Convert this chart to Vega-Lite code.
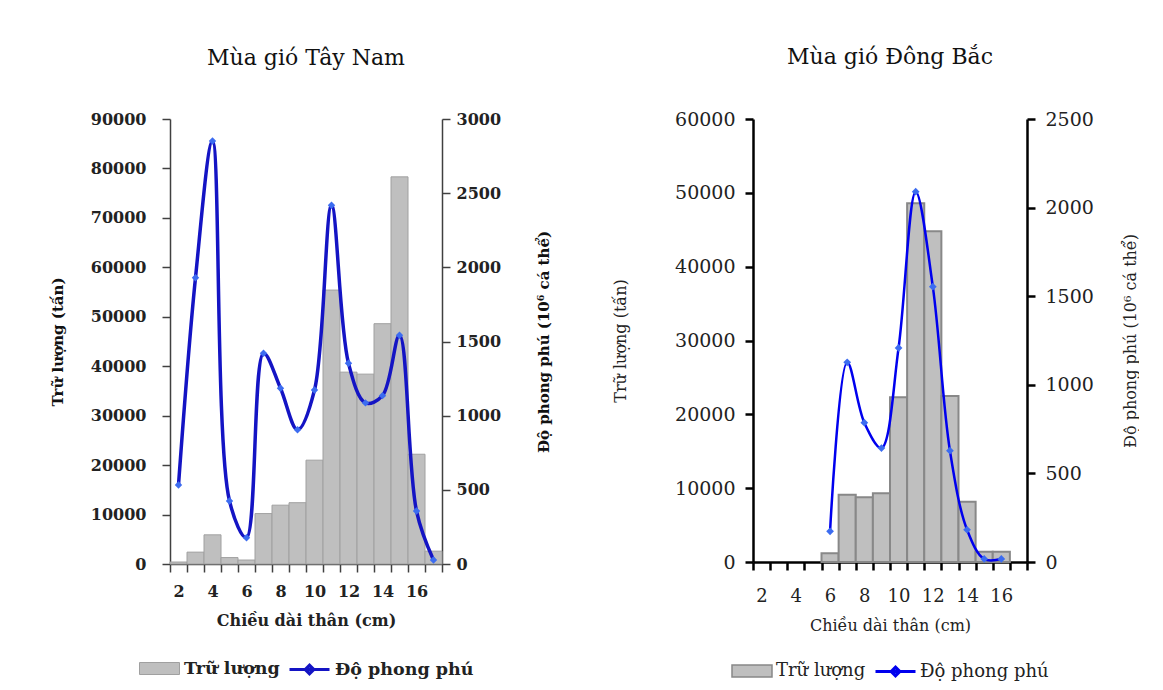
{
  "$schema": "https://vega.github.io/schema/vega-lite/v6.json",
  "background": "white",
  "padding": {"left": 50, "top": 46, "right": 0, "bottom": 0},
  "config": {
    "font": "DejaVu Serif",
    "view": {"stroke": null},
    "axis": {"grid": false},
    "legend": {"layout": {"bottom": {"anchor": "middle"}}}
  },
  "spacing": 60,
  "resolve": {"legend": {"fill": "independent", "stroke": "independent"}, "scale": {"fill": "independent", "stroke": "independent"}},
  "hconcat": [
    {
      "title": {"text": "Mùa gió Tây Nam", "fontSize": 22, "fontWeight": "normal", "font": "DejaVu Serif", "color": "#111", "offset": 41},
      "data": {"values": [
        {"len": 2, "tl": 400, "dpp": 533},
        {"len": 3, "tl": 2400, "dpp": 1930},
        {"len": 4, "tl": 5900, "dpp": 2852},
        {"len": 5, "tl": 1300, "dpp": 425},
        {"len": 6, "tl": 800, "dpp": 177},
        {"len": 7, "tl": 10200, "dpp": 1421},
        {"len": 8, "tl": 11900, "dpp": 1185},
        {"len": 9, "tl": 12400, "dpp": 905},
        {"len": 10, "tl": 21000, "dpp": 1173},
        {"len": 11, "tl": 55400, "dpp": 2418},
        {"len": 12, "tl": 38800, "dpp": 1353},
        {"len": 13, "tl": 38400, "dpp": 1086},
        {"len": 14, "tl": 48600, "dpp": 1135},
        {"len": 15, "tl": 78300, "dpp": 1542},
        {"len": 16, "tl": 22200, "dpp": 357},
        {"len": 17, "tl": 2600, "dpp": 27}
      ]},
      "width": 272,
      "height": 445,
      "encoding": {
        "x": {
          "field": "len", "type": "ordinal",
          "scale": {"domain": [2,3,4,5,6,7,8,9,10,11,12,13,14,15,16,17], "paddingInner": 0, "paddingOuter": 0},
          "axis": {
            "title": "Chiều dài thân (cm)", "tickBand": "extent", "labelAngle": 0, "labelOverlap": false,
            "labelExpr": "datum.value % 2 == 0 ? datum.label : ''",
            "labelFontSize": 16, "labelFontWeight": "bold", "labelColor": "#222", "labelPadding": 11,
            "titleFontSize": 16, "titleFontWeight": "bold", "titleColor": "#222", "titlePadding": 13,
            "tickSize": 8, "tickColor": "#404040", "domainColor": "#404040", "tickWidth": 1.5, "domainWidth": 1.5
          }
        }
      },
      "layer": [
        {
          "mark": {"type": "bar", "stroke": "#a0a0a0", "strokeWidth": 1},
          "encoding": {
            "y": {
              "field": "tl", "type": "quantitative",
              "scale": {"domain": [0, 90000]},
              "axis": {
                "title": "Trữ lượng (tấn)", "values": [0,10000,20000,30000,40000,50000,60000,70000,80000,90000], "format": "d",
                "labelFontSize": 16, "labelFontWeight": "bold", "labelColor": "#222", "labelPadding": 16,
                "titleFontSize": 15, "titleFontWeight": "bold", "titleColor": "#111", "titlePadding": 25,
                "tickSize": 8, "tickColor": "#404040", "domainColor": "#404040", "tickWidth": 1.5, "domainWidth": 1.5
              }
            },
            "fill": {
              "datum": "Trữ lượng", "type": "nominal",
              "scale": {"range": ["#bfbfbf"]},
              "legend": {
                "title": null, "orient": "bottom", "offset": 20, "labelOffset": 4,
                "symbolType": "M-1,-0.3L1,-0.3L1,0.3L-1,0.3Z", "symbolSize": 1600,
                "symbolStrokeColor": "#a0a0a0", "symbolStrokeWidth": 1,
                "labelFontSize": 17.5, "labelFontWeight": "bold", "labelColor": "#222", "labelFont": "DejaVu Serif"
              }
            }
          }
        },
        {
          "encoding": {
            "y": {
              "field": "dpp", "type": "quantitative",
              "scale": {"domain": [0, 3000]},
              "axis": {
                "orient": "right",
                "title": "Độ phong phú (10⁶ cá thể)", "values": [0,500,1000,1500,2000,2500,3000], "format": "d",
                "titleAngle": 270,
                "labelFontSize": 16, "labelFontWeight": "bold", "labelColor": "#222", "labelPadding": 6,
                "titleFontSize": 15, "titleFontWeight": "bold", "titleColor": "#111", "titlePadding": 51,
                "tickSize": 8, "tickColor": "#404040", "domainColor": "#404040", "tickWidth": 1.5, "domainWidth": 1.5
              }
            }
          },
          "layer": [
            {
              "mark": {"type": "line", "interpolate": "catmull-rom", "strokeWidth": 3.5},
              "encoding": {
                "stroke": {
                  "datum": "Độ phong phú", "type": "nominal",
                  "scale": {"range": ["#1414c4"]},
                  "legend": {
                    "title": null, "orient": "bottom", "offset": 20, "labelOffset": 4,
                    "symbolType": "M-1,0L1,0M-0.22,0L0,-0.22L0.22,0L0,0.22Z", "symbolSize": 1600,
                    "symbolStrokeWidth": 3, "symbolFillColor": "#3c6cf0",
                    "labelFontSize": 17.5, "labelFontWeight": "bold", "labelColor": "#222", "labelFont": "DejaVu Serif"
                  }
                }
              }
            },
            {
              "mark": {"type": "point", "shape": "diamond", "filled": true, "size": 55, "color": "#3c6cf0", "opacity": 1},
              "encoding": {}
            }
          ]
        }
      ],
      "resolve": {"scale": {"y": "independent"}}
    },
    {
      "title": {"text": "Mùa gió Đông Bắc", "fontSize": 22, "fontWeight": "normal", "font": "DejaVu Serif", "color": "#111", "offset": 41},
      "data": {"values": [
        {"len": 2, "tl": null, "dpp": null},
        {"len": 3, "tl": null, "dpp": null},
        {"len": 4, "tl": null, "dpp": null},
        {"len": 5, "tl": null, "dpp": null},
        {"len": 6, "tl": 1180, "dpp": 173},
        {"len": 7, "tl": 9120, "dpp": 1127},
        {"len": 8, "tl": 8760, "dpp": 786},
        {"len": 9, "tl": 9300, "dpp": 643},
        {"len": 10, "tl": 22300, "dpp": 1208},
        {"len": 11, "tl": 48600, "dpp": 2090},
        {"len": 12, "tl": 44800, "dpp": 1554},
        {"len": 13, "tl": 22500, "dpp": 628},
        {"len": 14, "tl": 8170, "dpp": 182},
        {"len": 15, "tl": 1400, "dpp": 17},
        {"len": 16, "tl": 1400, "dpp": 17},
        {"len": 17, "tl": null, "dpp": null}
      ]},
      "width": 274,
      "height": 443,
      "encoding": {
        "x": {
          "field": "len", "type": "ordinal",
          "scale": {"domain": [2,3,4,5,6,7,8,9,10,11,12,13,14,15,16,17], "paddingInner": 0, "paddingOuter": 0},
          "axis": {
            "title": "Chiều dài thân (cm)", "tickBand": "extent", "labelAngle": 0, "labelOverlap": false,
            "labelExpr": "datum.value % 2 == 0 ? datum.label : ''",
            "labelFontSize": 18, "labelFontWeight": "normal", "labelColor": "#222", "labelPadding": 17,
            "titleFontSize": 16, "titleFontWeight": "normal", "titleColor": "#222", "titlePadding": 12,
            "tickSize": 8, "tickColor": "#000", "domainColor": "#000", "tickWidth": 2.5, "domainWidth": 2.5
          }
        }
      },
      "layer": [
        {
          "mark": {"type": "bar", "stroke": "#888888", "strokeWidth": 2},
          "encoding": {
            "y": {
              "field": "tl", "type": "quantitative",
              "scale": {"domain": [0, 60000]},
              "axis": {
                "title": "Trữ lượng (tấn)", "values": [0,10000,20000,30000,40000,50000,60000], "format": "d",
                "labelFontSize": 19, "labelFontWeight": "normal", "labelColor": "#222", "labelPadding": 10,
                "titleFontSize": 16, "titleFontWeight": "normal", "titleColor": "#222", "titlePadding": 46,
                "tickSize": 8, "tickColor": "#000", "domainColor": "#000", "tickWidth": 2.5, "domainWidth": 2.5
              }
            },
            "fill": {
              "datum": "Trữ lượng ", "type": "nominal",
              "scale": {"range": ["#bfbfbf"]},
              "legend": {
                "title": null, "orient": "bottom", "offset": 17, "labelOffset": 3,
                "symbolType": "M-1,-0.3L1,-0.3L1,0.3L-1,0.3Z", "symbolSize": 1600,
                "symbolStrokeColor": "#888888", "symbolStrokeWidth": 1.5,
                "labelFontSize": 18, "labelFontWeight": "normal", "labelColor": "#222", "labelFont": "DejaVu Serif"
              }
            }
          }
        },
        {
          "encoding": {
            "y": {
              "field": "dpp", "type": "quantitative",
              "scale": {"domain": [0, 2500]},
              "axis": {
                "orient": "right",
                "title": "Độ phong phú (10⁶ cá thể)", "values": [0,500,1000,1500,2000,2500], "format": "d",
                "titleAngle": 270,
                "labelFontSize": 19, "labelFontWeight": "normal", "labelColor": "#222", "labelPadding": 10,
                "titleFontSize": 16, "titleFontWeight": "normal", "titleColor": "#222", "titlePadding": 45,
                "tickSize": 8, "tickColor": "#000", "domainColor": "#000", "tickWidth": 2.5, "domainWidth": 2.5
              }
            }
          },
          "layer": [
            {
              "mark": {"type": "line", "interpolate": "catmull-rom", "strokeWidth": 2.5},
              "encoding": {
                "stroke": {
                  "datum": "Độ phong phú ", "type": "nominal",
                  "scale": {"range": ["#0000ee"]},
                  "legend": {
                    "title": null, "orient": "bottom", "offset": 17, "labelOffset": 3,
                    "symbolType": "M-1,0L1,0M-0.22,0L0,-0.22L0.22,0L0,0.22Z", "symbolSize": 1600,
                    "symbolStrokeWidth": 3, "symbolFillColor": "#3c6cf0",
                    "labelFontSize": 18, "labelFontWeight": "normal", "labelColor": "#222", "labelFont": "DejaVu Serif"
                  }
                }
              }
            },
            {
              "mark": {"type": "point", "shape": "diamond", "filled": true, "size": 60, "color": "#3c6cf0", "opacity": 1},
              "encoding": {}
            }
          ]
        }
      ],
      "resolve": {"scale": {"y": "independent"}}
    }
  ]
}
